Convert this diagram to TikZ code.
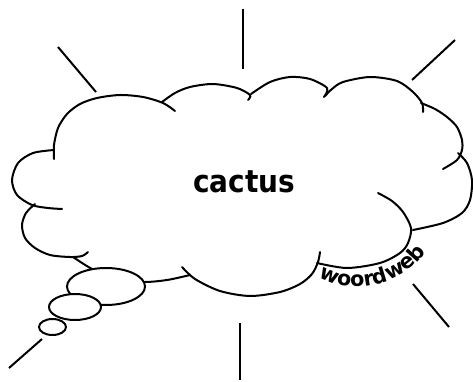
\documentclass[tikz,border=0pt]{standalone}
\usepackage{fontspec}
\usepackage{graphicx}
\newfontfamily\dvs{DejaVu Sans}
\usetikzlibrary{decorations.text}
\tikzset{
  lobe/.style={line width=1.5pt, line cap=round, line join=round},
  spoke/.style={line width=1.5pt},
  bubble/.style={line width=1.5pt, fill=white},
}
\begin{document}
\begin{tikzpicture}[x=0.75pt,y=-0.75pt]
\useasboundingbox (0,0) rectangle (473,381);
% spokes
\draw[spoke] (243,9) -- (243,69);
\draw[spoke] (58,47) -- (96,92);
\draw[spoke] (455,40) -- (412,80);
\draw[spoke] (413,284) -- (449,327);
\draw[spoke] (240,323) -- (240,380);
\draw[spoke] (9,368) -- (42,339);
% cloud lobes
\draw[lobe] plot[smooth] coordinates {(54,159) (54,145) (58,128) (67,114) (80,104) (97,98) (120,95) (143,97) (163,103) (175,111)};
\draw[lobe] plot[smooth] coordinates {(162,102) (175,93) (190,87) (213,84) (237,88) (250,95) (248,100)};
\draw[lobe] plot[smooth] coordinates {(251,94) (270,82) (290,77) (310,79) (327,88) (324,97)};
\draw[lobe] plot[smooth] coordinates {(325,96) (332,89) (343,82) (370,77) (397,81) (413,92) (422,103) (423,112)};
\draw[lobe] plot[smooth] coordinates {(421,103) (435,109) (447,117) (457,127) (462,140) (462,150) (457,160) (443,169)};
\draw[lobe] plot[smooth] coordinates {(458,153) (467,163) (472,180) (470,200) (462,213) (443,223) (413,230)};
\draw[lobe] plot[smooth] coordinates {(378,193) (392,201) (403,212) (411,228) (408,243) (400,253) (380,263) (347,268) (317,263)};
\draw[lobe] plot[smooth] coordinates {(320,252) (318,262) (312,274) (300,284) (280,292) (250,296) (220,291) (195,279) (182,267)};
\draw[lobe] plot[smooth] coordinates {(190,275) (167,280) (143,282) (115,279) (92,269) (73,257)};
\draw[lobe] plot[smooth] coordinates {(35,204) (26,213) (22,225) (25,238) (35,248) (50,255) (70,257) (82,256) (88,252)};
\draw[lobe] plot[smooth] coordinates {(54,150) (33,153) (18,163) (12,180) (17,195) (32,205) (48,208) (62,209)};
% thought bubbles
\draw[bubble] (106,286.5) ellipse [x radius=29.25pt, y radius=13.875pt];
\draw[bubble] (75,307) ellipse [x radius=19.5pt, y radius=9.75pt];
\draw[bubble] (52.5,327) ellipse [x radius=10.125pt, y radius=6pt];
% texts
\node[anchor=base, inner sep=0pt] (title) at (244,192)
  {\scalebox{0.9}[1]{\dvs\bfseries\fontsize{23.3}{26}\selectfont cactus}};
\path[decorate, decoration={text along path,
  text format delimiters={|}{|},
  text={|\dvs\bfseries\fontsize{15.5}{17}\selectfont|woordweb}}]
  (319,277) .. controls (350,297) and (408,287) .. (433,242);
\end{tikzpicture}
\end{document}
